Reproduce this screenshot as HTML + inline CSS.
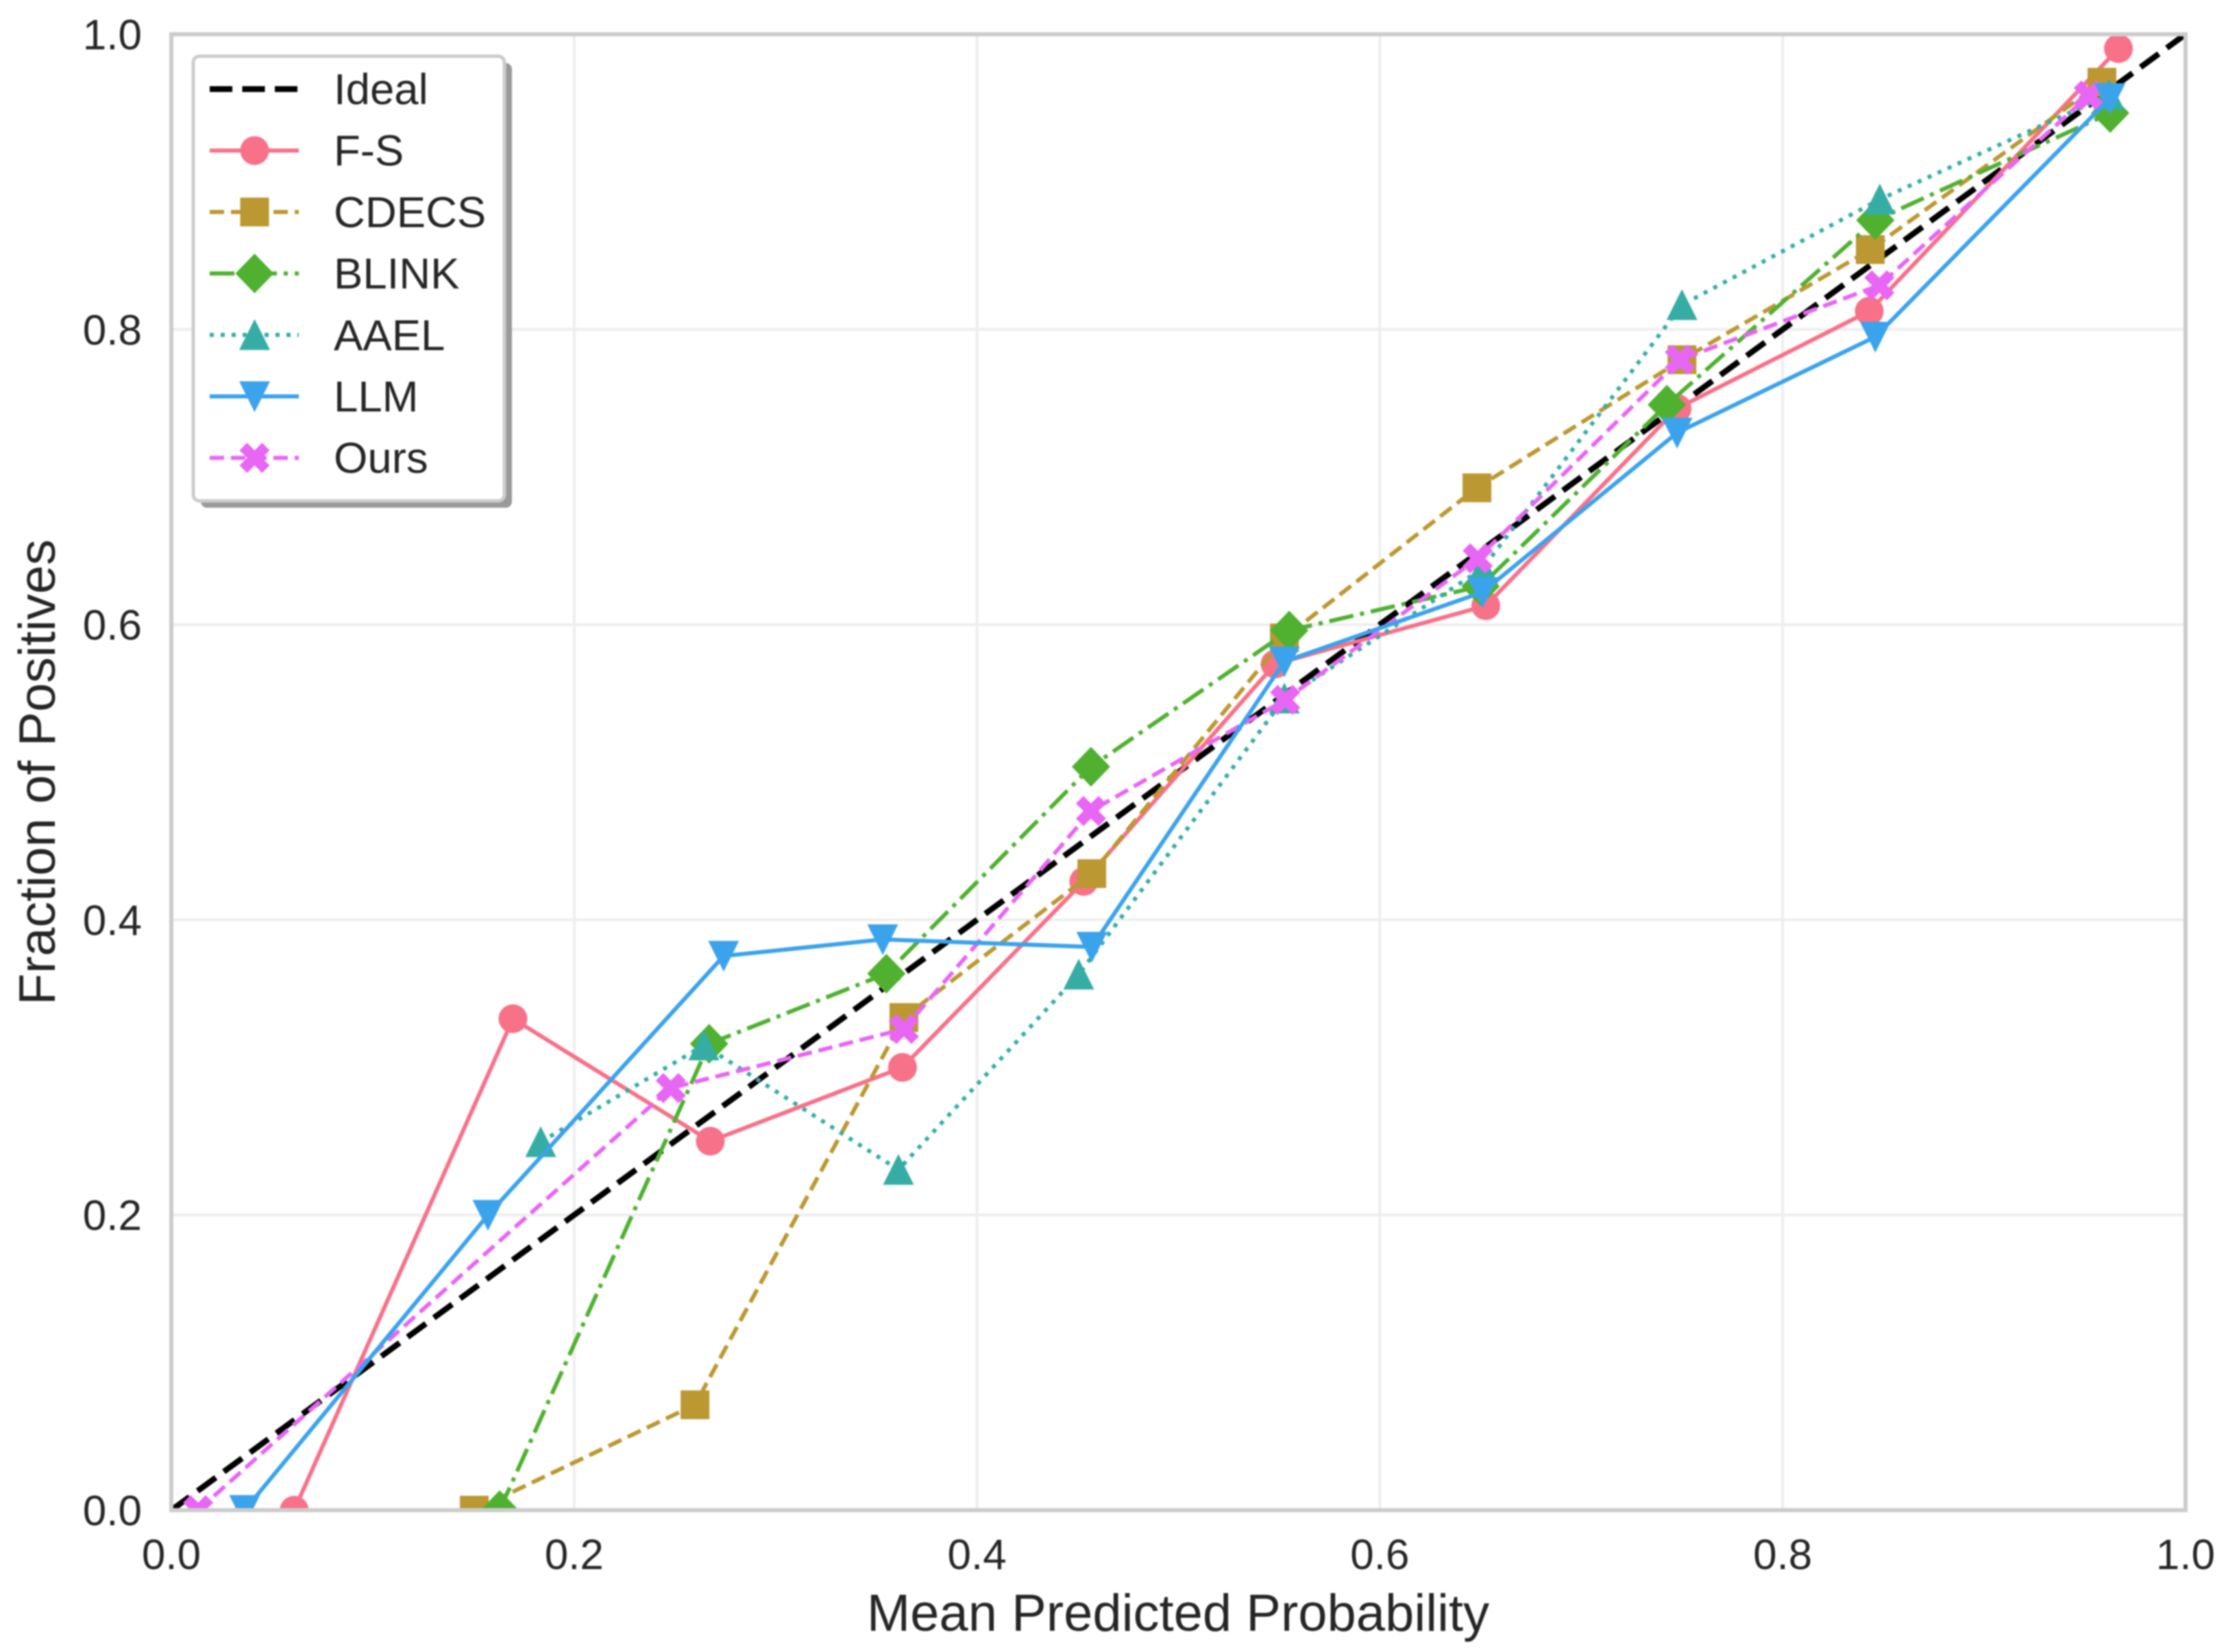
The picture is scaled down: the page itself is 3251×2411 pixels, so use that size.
<!DOCTYPE html>
<html lang="en">
<head>
<meta charset="utf-8">
<title>Calibration Curve</title>
<style>
  html, body { margin: 0; padding: 0; background: #fff; }
  body { width: 3251px; height: 2411px; overflow: hidden; }
  svg { display: block; filter: blur(1px); }
  text { font-family: "Liberation Sans", Arial, sans-serif; fill: #262626; }
</style>
</head>
<body>
<svg id="chart" xmlns="http://www.w3.org/2000/svg" width="3251" height="2411" viewBox="0 0 3251 2411">
  <defs>
    <clipPath id="plot-clip"><rect x="250" y="50" width="2939" height="2154"></rect></clipPath>
  </defs>
  <rect x="0" y="0" width="3251" height="2411" fill="#ffffff"></rect>
  <g id="grid"></g>
  <g id="series" clip-path="url(#plot-clip)"></g>
  <rect x="250" y="50" width="2939" height="2154" fill="none" stroke="#cccccc" stroke-width="6"></rect>
  <g id="ticks"></g>
  <text x="1719" y="2380" font-size="76" text-anchor="middle">Mean Predicted Probability</text>
  <text x="0" y="0" font-size="75.5" text-anchor="middle" transform="translate(80 1127) rotate(-90)">Fraction of Positives</text>
  <g id="legend"></g>
</svg>
<script>
const xTicks = [0, 0.2, 0.4, 0.6, 0.8, 1];
const yTicks = [0, 0.2, 0.4, 0.6, 0.8, 1];
const xTickLabels = ['0.0', '0.2', '0.4', '0.6', '0.8', '1.0'];
const yTickLabels = ['0.0', '0.2', '0.4', '0.6', '0.8', '1.0'];

const idealX = [0, 1];
const idealY = [0, 1];

const fsX = [0.061, 0.1696, 0.2676, 0.363, 0.453, 0.548, 0.6526, 0.7476, 0.843, 0.9667];
const fsY = [0, 0.333, 0.25, 0.3, 0.426, 0.5733, 0.6128, 0.7465, 0.8124, 0.9903];

const cdecsX = [0.1504, 0.26, 0.3637, 0.457, 0.5526, 0.6482, 0.75, 0.8435, 0.9585];
const cdecsY = [0, 0.0714, 0.3338, 0.4313, 0.591, 0.6927, 0.7795, 0.8541, 0.9675];

const blinkX = [0.163, 0.267, 0.355, 0.4566, 0.555, 0.65, 0.7425, 0.846, 0.9626];
const blinkY = [0, 0.316, 0.3635, 0.5037, 0.596, 0.626, 0.749, 0.874, 0.9466];

const aaelX = [0.1834, 0.2644, 0.361, 0.4505, 0.5526, 0.651, 0.75, 0.8482, 0.962];
const aaelY = [0.2495, 0.315, 0.2307, 0.363, 0.55, 0.638, 0.8166, 0.8881, 0.959];

const llmX = [0.0364, 0.1572, 0.2742, 0.3532, 0.457, 0.5526, 0.651, 0.7476, 0.846, 0.9625];
const llmY = [0, 0.2, 0.3755, 0.3867, 0.3816, 0.575, 0.622, 0.73, 0.795, 0.9566];

const oursX = [0.0133, 0.248, 0.3637, 0.4566, 0.553, 0.6486, 0.749, 0.848, 0.952];
const oursY = [0, 0.286, 0.326, 0.4737, 0.549, 0.6449, 0.7795, 0.8299, 0.9585];

const PLOT_L = 250, PLOT_R = 3189, PLOT_T = 50, PLOT_B = 2204;
function xScale(v) { return PLOT_L + v * (PLOT_R - PLOT_L); }
function yScale(v) { return PLOT_B - v * (PLOT_B - PLOT_T); }

const NS = 'http://www.w3.org/2000/svg';
function mk(tag, attrs, parent) {
  const el = document.createElementNS(NS, tag);
  for (const k in attrs) el.setAttribute(k, attrs[k]);
  parent.appendChild(el);
  return el;
}

function markerShape(kind, cx, cy, color, parent) {
  if (kind === 'circle') {
    return mk('circle', { cx: cx, cy: cy, r: 21, fill: color }, parent);
  }
  if (kind === 'square') {
    return mk('rect', { x: cx - 21, y: cy - 21, width: 42, height: 42, fill: color }, parent);
  }
  let pts;
  if (kind === 'diamond') {
    pts = [[0, -29], [28, 0], [0, 29], [-28, 0]];
  } else if (kind === 'up') {
    pts = [[0, -23], [22.5, 22], [-22.5, 22]];
  } else if (kind === 'down') {
    pts = [[0, 23], [22.5, -22], [-22.5, -22]];
  } else {
    const u = 11;
    pts = [[-1, -2], [0, -1], [1, -2], [2, -1], [1, 0], [2, 1], [1, 2], [0, 1], [-1, 2], [-2, 1], [-1, 0], [-2, -1]]
      .map(function (p) { return [p[0] * u, p[1] * u]; });
  }
  const str = pts.map(function (p) { return (cx + p[0]) + ',' + (cy + p[1]); }).join(' ');
  return mk('polygon', { points: str, fill: color }, parent);
}

const gridG = document.getElementById('grid');
xTicks.forEach(function (t) {
  const l = mk('line', { x1: xScale(t), x2: xScale(t), y1: PLOT_T, y2: PLOT_B, stroke: '#eeeeee', 'stroke-width': 4 }, gridG);
  
  
});
yTicks.forEach(function (t) {
  const l = mk('line', { x1: PLOT_L, x2: PLOT_R, y1: yScale(t), y2: yScale(t), stroke: '#eeeeee', 'stroke-width': 4 }, gridG);
  
  
});

const tickG = document.getElementById('ticks');
xTicks.forEach(function (t, i) {
  const el = mk('text', { x: xScale(t), y: 2290, 'font-size': 62, 'text-anchor': 'middle' }, tickG);
  el.textContent = xTickLabels[i];
  
  
});
yTicks.forEach(function (t, i) {
  const el = mk('text', { x: 207, y: yScale(t) + 22, 'font-size': 62, 'text-anchor': 'end' }, tickG);
  el.textContent = yTickLabels[i];
  
  
});

const DASH_IDEAL = '33 14.5';
const DASH_DASHED = '21 10';
const DASH_DOTDASH = '36 10 6 10';
const DASH_DOTTED = '6 10';

const seriesList = [
  { key: 'ideal', label: 'Ideal', xs: idealX, ys: idealY, color: '#000000', width: 8.5, dash: DASH_IDEAL, marker: null },
  { key: 'f-s', label: 'F-S', xs: fsX, ys: fsY, color: '#f77189', width: 6, dash: null, marker: 'circle' },
  { key: 'cdecs', label: 'CDECS', xs: cdecsX, ys: cdecsY, color: '#bb9832', width: 6, dash: DASH_DASHED, marker: 'square' },
  { key: 'blink', label: 'BLINK', xs: blinkX, ys: blinkY, color: '#50b131', width: 6, dash: DASH_DOTDASH, marker: 'diamond' },
  { key: 'aael', label: 'AAEL', xs: aaelX, ys: aaelY, color: '#36ada4', width: 6, dash: DASH_DOTTED, marker: 'up' },
  { key: 'llm', label: 'LLM', xs: llmX, ys: llmY, color: '#3ba3ec', width: 6, dash: null, marker: 'down' },
  { key: 'ours', label: 'Ours', xs: oursX, ys: oursY, color: '#e866f4', width: 6, dash: DASH_DASHED, marker: 'x' }
];

const drawOrder = ['ideal', 'f-s', 'cdecs', 'blink', 'aael', 'ours', 'llm'];
const seriesG = document.getElementById('series');
drawOrder.forEach(function (key) {
  const s = seriesList.find(function (d) { return d.key === key; });
  const g = mk('g', {}, seriesG);
  
  
  const pts = s.xs.map(function (x, i) { return xScale(x) + ',' + yScale(s.ys[i]); }).join(' ');
  const attrs = { points: pts, fill: 'none', stroke: s.color, 'stroke-width': s.width, 'stroke-linejoin': 'round' };
  if (s.dash) attrs['stroke-dasharray'] = s.dash;
  const line = mk('polyline', attrs, g);
  
  
  if (s.marker) {
    s.xs.forEach(function (x, i) {
      const m = markerShape(s.marker, xScale(x), yScale(s.ys[i]), s.color, g);
      
      
    });
  }
});

const legendG = document.getElementById('legend');
const shadow = mk('rect', { x: 293, y: 92, width: 454, height: 649, rx: 9, ry: 9, fill: '#9a9a9a' }, legendG);


const box = mk('rect', { x: 282, y: 82, width: 454, height: 649, rx: 9, ry: 9, fill: '#ffffff', stroke: '#cccccc', 'stroke-width': 5 }, legendG);



seriesList.forEach(function (s, i) {
  const rowY = 130 + i * 89.7;
  const g = mk('g', {}, legendG);
  
  
  const attrs = { x1: 306, x2: 436, y1: rowY, y2: rowY, stroke: s.color, 'stroke-width': s.width };
  if (s.dash) attrs['stroke-dasharray'] = s.dash;
  const handle = mk('line', attrs, g);
  
  
  if (s.marker) {
    const m = markerShape(s.marker, 371.5, rowY, s.color, g);
    
    
  }
  const label = mk('text', { x: 487, y: rowY + 22, 'font-size': 63.5 }, g);
  label.textContent = s.label;
  
  
});
</script>
</body>
</html>
